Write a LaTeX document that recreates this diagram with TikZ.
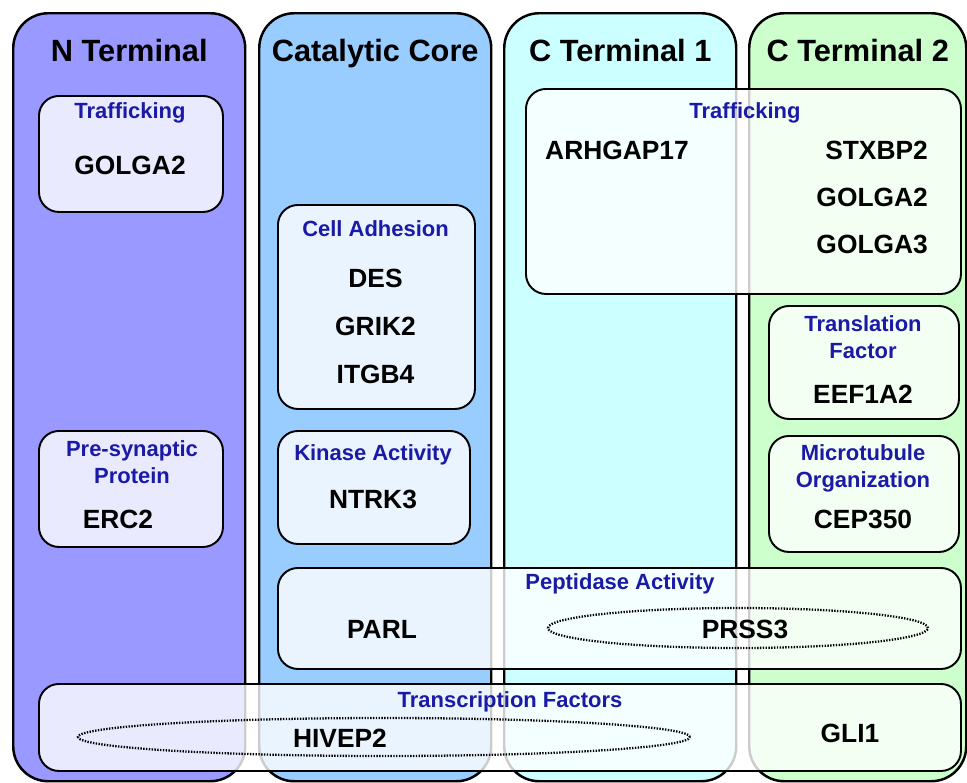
\documentclass[tikz,border=0pt]{standalone}
\usepackage{fontspec}
\setmainfont{Liberation Sans}
\usetikzlibrary{positioning, shapes.geometric}
\definecolor{nTermBlue}{HTML}{9999FF}
\definecolor{coreBlue}{HTML}{99CCFF}
\definecolor{cTermCyan}{HTML}{CCFFFF}
\definecolor{cTermGreen}{HTML}{CCFFCC}
\definecolor{titleBlue}{HTML}{1A1AA6}

\begin{document}
\begin{tikzpicture}[
    panel/.style={draw=black, line width=1.4pt, rounded corners=0.7cm, anchor=north west,
      minimum height=15.36cm},
    heading/.style={font=\fontsize{17.5}{20}\selectfont\bfseries, anchor=base},
    group/.style={draw=black, line width=1.1pt, rounded corners=0.4cm, anchor=north west,
      fill=white, fill opacity=0.8},
    role/.style={font=\fontsize{12.5}{15.3}\selectfont\bfseries, text=titleBlue, align=center},
    gene/.style={font=\fontsize{15}{18}\selectfont\bfseries},
    cluster/.style={draw=black, ellipse, line width=1.3pt, dash pattern=on 0.8pt off 0.8pt}]
    \useasboundingbox (0,0) rectangle (19.34,-15.64);

    % domains
    \node[panel, fill=nTermBlue, minimum width=4.64cm] (nterm) at (0.24,-0.24) {};
    \node[panel, fill=coreBlue, minimum width=4.64cm] (core) at (5.16,-0.24) {};
    \node[panel, fill=cTermCyan, minimum width=4.64cm] (cterm1) at (10.06,-0.24) {};
    \node[panel, fill=cTermGreen, minimum width=4.34cm] (cterm2) at (14.96,-0.24) {};
    \node[heading] (ntermLabel) at ([yshift=-0.99cm]nterm.north) {N Terminal};
    \node[heading] (coreLabel) at ([yshift=-0.99cm]core.north) {Catalytic Core};
    \node[heading] (cterm1Label) at ([yshift=-0.99cm]cterm1.north) {C Terminal 1};
    \node[heading] (cterm2Label) at ([yshift=-0.99cm]cterm2.north) {C Terminal 2};

    % N terminal
    \node[group, minimum width=3.68cm, minimum height=2.32cm] (traffN) at (0.76,-1.90) {};
    \node[role] (traffNLabel) at (2.60,-2.26) {Trafficking};
    \node[gene] (golgaN) at (2.60,-3.30) {GOLGA2};
    \node[group, minimum width=3.68cm, minimum height=2.32cm] (presyn) at (0.76,-8.60) {};
    \node[role] (presynLabel) at (2.64,-9.25) {Pre-synaptic\\Protein};
    \node[gene] (erc) at (2.36,-10.38) {ERC2};

    % catalytic core
    \node[group, minimum width=3.94cm, minimum height=4.08cm] (adhesion) at (5.54,-4.08) {};
    \node[role] (adhesionLabel) at (7.51,-4.58) {Cell Adhesion};
    \node[gene] (des) at (7.51,-5.56) {DES};
    \node[gene] (grik) at (7.51,-6.52) {GRIK2};
    \node[gene] (itgb) at (7.51,-7.48) {ITGB4};
    \node[group, minimum width=3.84cm, minimum height=2.26cm] (kinase) at (5.54,-8.60) {};
    \node[role] (kinaseLabel) at (7.46,-9.10) {Kinase Activity};
    \node[gene] (ntrk) at (7.46,-9.98) {NTRK3};

    % C terminal
    \node[group, minimum width=8.70cm, minimum height=4.10cm] (traffC) at (10.50,-1.76) {};
    \node[role] (traffCLabel) at (14.90,-2.26) {Trafficking};
    \node[gene] (arhgap) at (12.34,-3.00) {ARHGAP17};
    \node[gene, anchor=east] (stxbp) at (18.68,-3.00) {STXBP2};
    \node[gene, anchor=east] (golgaC) at (18.68,-3.94) {GOLGA2};
    \node[gene, anchor=east] (golgb) at (18.68,-4.88) {GOLGA3};
    \node[group, minimum width=3.80cm, minimum height=2.26cm] (transl) at (15.36,-6.10) {};
    \node[role] (translLabel) at (17.26,-6.75) {Translation\\Factor};
    \node[gene] (eef) at (17.26,-7.88) {EEF1A2};
    \node[group, minimum width=3.80cm, minimum height=2.32cm] (micro) at (15.36,-8.70) {};
    \node[role] (microLabel) at (17.26,-9.37) {Microtubule\\Organization};
    \node[gene] (cep) at (17.26,-10.38) {CEP350};

    % spanning groups
    \node[group, minimum width=13.66cm, minimum height=2.02cm] (pept) at (5.54,-11.34) {};
    \node[role] (peptLabel) at (12.40,-11.68) {Peptidase Activity};
    \node[gene] (parl) at (7.64,-12.58) {PARL};
    \node[cluster, minimum width=7.60cm, minimum height=0.80cm] (prssRing) at (14.76,-12.56) {};
    \node[gene] (prss) at (14.90,-12.58) {PRSS3};
    \node[group, minimum width=18.44cm, minimum height=1.74cm] (transc) at (0.76,-13.66) {};
    \node[role] (transcLabel) at (10.20,-14.04) {Transcription Factors};
    \node[cluster, minimum width=12.24cm, minimum height=0.76cm] (hivepRing) at (7.68,-14.74) {};
    \node[gene] (hivep) at (6.80,-14.76) {HIVEP2};
    \node[gene] (gli) at (17.00,-14.66) {GLI1};
\end{tikzpicture}
\end{document}
